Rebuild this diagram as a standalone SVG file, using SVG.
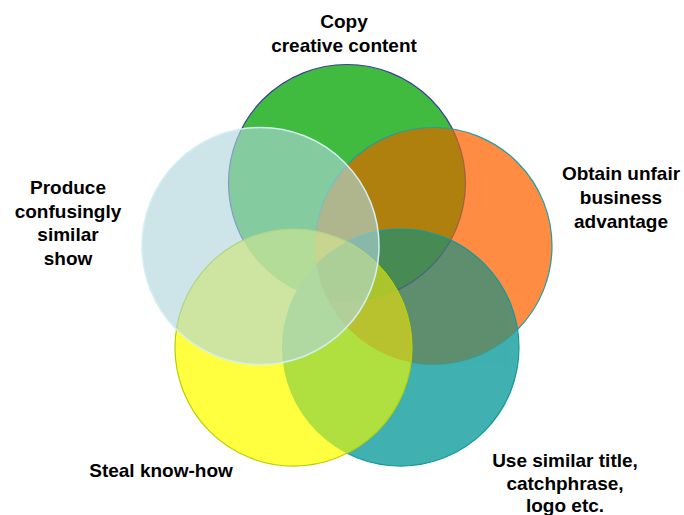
<svg xmlns="http://www.w3.org/2000/svg" width="684" height="515" viewBox="0 0 684 515">
<style>
.lbl{font-family:"Liberation Sans",Arial,sans-serif;font-weight:bold;font-size:19px;fill:#000;text-anchor:middle}
.edge{fill:none;stroke-width:1.2}
</style>
<defs>
<clipPath id="cG"><circle cx="347" cy="183" r="118.5"/></clipPath>
<clipPath id="cO"><circle cx="433.5" cy="246" r="118.5"/></clipPath>
<clipPath id="cT"><circle cx="400.5" cy="347.6" r="118.5"/></clipPath>
</defs>
<rect width="684" height="515" fill="#fff"/>

<g id="copy-creative-content">
<circle cx="347" cy="183" r="118.5" fill="#40BB40"/>
<circle class="edge" cx="347" cy="183" r="118.5" stroke="#3C3CA0"/>
<text class="lbl" x="344" y="28">Copy</text>
<text class="lbl" x="344" y="52">creative content</text>
</g>

<g id="obtain-unfair-advantage">
<circle cx="433.5" cy="246" r="118.5" fill="#FF8C42"/>
<g clip-path="url(#cG)"><circle cx="433.5" cy="246" r="118.5" fill="#B0800F"/></g>
<circle class="edge" cx="347" cy="183" r="118.5" stroke="#6A3C70" stroke-opacity="0.5" clip-path="url(#cO)"/>
<circle class="edge" cx="433.5" cy="246" r="118.5" stroke="#1E9E9E"/>
<text class="lbl" x="621" y="180">Obtain unfair</text>
<text class="lbl" x="621" y="204">business</text>
<text class="lbl" x="621" y="228">advantage</text>
</g>

<g id="use-similar-title">
<circle cx="400.5" cy="347.6" r="118.5" fill="#40B0B0"/>
<g clip-path="url(#cO)"><circle cx="400.5" cy="347.6" r="118.5" fill="#5F8F70"/></g>
<g clip-path="url(#cO)"><g clip-path="url(#cG)"><circle cx="400.5" cy="347.6" r="118.5" fill="#488B55"/></g></g>
<g clip-path="url(#cT)" opacity="0.45">
<circle class="edge" cx="347" cy="183" r="118.5" stroke="#3C3CA0"/>
<circle class="edge" cx="433.5" cy="246" r="118.5" stroke="#1E9E9E"/>
</g>
<circle class="edge" cx="400.5" cy="347.6" r="118.5" stroke="#129A9A"/>
<text class="lbl" x="565" y="467">Use similar title,</text>
<text class="lbl" x="565" y="489.5">catchphrase,</text>
<text class="lbl" x="565" y="512">logo etc.</text>
</g>

<g id="steal-know-how">
<circle cx="293.5" cy="347.6" r="118.5" fill="#FFFF40"/>
<g clip-path="url(#cG)"><circle cx="293.5" cy="347.6" r="118.5" fill="#B8E628"/></g>
<g clip-path="url(#cG)"><g clip-path="url(#cO)"><circle cx="293.5" cy="347.6" r="118.5" fill="#F0D410"/></g></g>
<g clip-path="url(#cT)"><circle cx="293.5" cy="347.6" r="118.5" fill="#B0E040"/></g>
<g clip-path="url(#cT)"><g clip-path="url(#cO)"><circle cx="293.5" cy="347.6" r="118.5" fill="#B8C22E"/></g></g>
<g clip-path="url(#cT)"><g clip-path="url(#cO)"><g clip-path="url(#cG)"><circle cx="293.5" cy="347.6" r="118.5" fill="#A9C52B"/></g></g></g>
<circle class="edge" cx="293.5" cy="347.6" r="118.5" stroke="#B4D200"/>
<text class="lbl" x="161" y="477">Steal know-how</text>
</g>

<g id="produce-similar-show">
<circle cx="260.5" cy="246" r="118.5" fill="#AED5DC" fill-opacity="0.62" stroke="#D4EEF3" stroke-width="1.5"/>
<text class="lbl" x="68" y="194">Produce</text>
<text class="lbl" x="68" y="217.5">confusingly</text>
<text class="lbl" x="68" y="241">similar</text>
<text class="lbl" x="68" y="264.5">show</text>
</g>
</svg>
